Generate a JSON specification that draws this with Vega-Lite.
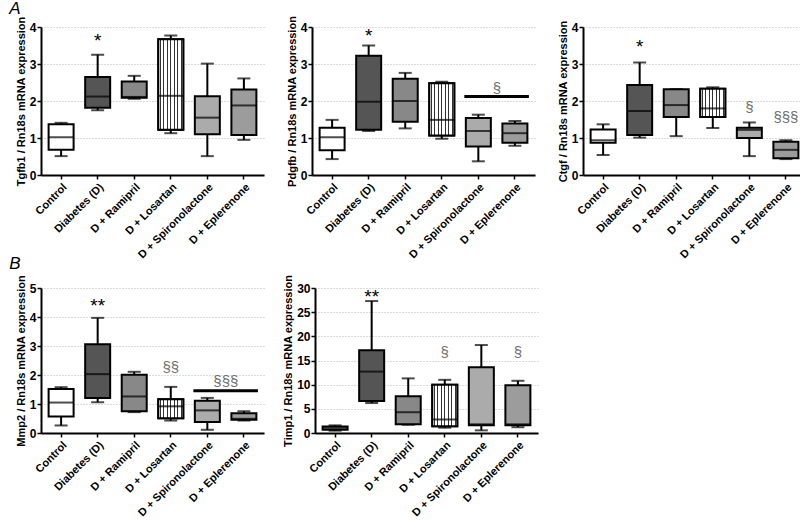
{
  "$schema": "https://vega.github.io/schema/vega-lite/v6.json",
  "padding": {"left": 9, "top": 0, "right": 0, "bottom": 0},
  "background": "white",
  "config": {
    "font": "Liberation Sans",
    "view": {"stroke": null},
    "axis": {"labelFont": "Liberation Sans", "labelFontWeight": "bold", "labelFontSize": 11, "labelColor": "#000", "titleFont": "Liberation Sans", "titleFontSize": 11, "titleFontWeight": "bold", "titleColor": "#000", "domainColor": "#000", "domainWidth": 2, "tickColor": "#000", "tickWidth": 1.5, "tickSize": 4},
    "axisX": {"labelAngle": -45, "labelAlign": "right", "labelBaseline": "top", "grid": false, "labelPadding": 2},
    "axisY": {"grid": true, "gridColor": "#b8b8b8", "gridDash": [1, 2], "gridWidth": 1, "labelPadding": 1, "titlePadding": 3, "minExtent": 0, "tickCount": 5, "labelFontSize": 12},
    "title": {"font": "Liberation Sans", "fontSize": 17, "fontStyle": "italic", "fontWeight": "normal", "anchor": "start", "color": "#000"}
  },
  "datasets": {
    "tgfb1": [
      {"g": "Control", "min": 0.51, "q1": 0.68, "med": 1.02, "q3": 1.37, "max": 1.41},
      {"g": "Diabetes (D)", "min": 1.75, "q1": 1.82, "med": 2.12, "q3": 2.65, "max": 3.25},
      {"g": "D + Ramipril", "min": 2.06, "q1": 2.09, "med": 2.11, "q3": 2.53, "max": 2.68},
      {"g": "D + Losartan", "min": 1.13, "q1": 1.22, "med": 2.14, "q3": 3.67, "max": 3.77},
      {"g": "D + Spironolactone", "min": 0.51, "q1": 1.1, "med": 1.55, "q3": 2.13, "max": 3.01},
      {"g": "D + Eplerenone", "min": 0.95, "q1": 1.08, "med": 1.88, "q3": 2.31, "max": 2.61}
    ],
    "tgfb1_ann": [{"g": "Diabetes (D)", "y": 3.7, "t": "*"}],
    "pdgfb": [
      {"g": "Control", "min": 0.43, "q1": 0.67, "med": 1.02, "q3": 1.28, "max": 1.49},
      {"g": "Diabetes (D)", "min": 1.19, "q1": 1.22, "med": 1.98, "q3": 3.22, "max": 3.5},
      {"g": "D + Ramipril", "min": 1.26, "q1": 1.44, "med": 2.0, "q3": 2.6, "max": 2.76},
      {"g": "D + Losartan", "min": 0.98, "q1": 1.07, "med": 1.49, "q3": 2.48, "max": 2.52},
      {"g": "D + Spironolactone", "min": 0.37, "q1": 0.77, "med": 1.19, "q3": 1.54, "max": 1.63},
      {"g": "D + Eplerenone", "min": 0.79, "q1": 0.87, "med": 1.13, "q3": 1.39, "max": 1.46}
    ],
    "pdgfb_ann": [{"g": "Diabetes (D)", "y": 3.84, "t": "*"}],
    "pdgfb_bar": [{"g": "D + Spironolactone", "g2": "D + Eplerenone", "y": 2.12, "ty": 2.36, "t": "§"}],
    "ctgf": [
      {"g": "Control", "min": 0.54, "q1": 0.87, "med": 0.94, "q3": 1.23, "max": 1.37},
      {"g": "Diabetes (D)", "min": 1.01, "q1": 1.08, "med": 1.73, "q3": 2.43, "max": 3.04},
      {"g": "D + Ramipril", "min": 1.05, "q1": 1.57, "med": 1.89, "q3": 2.32, "max": 2.32},
      {"g": "D + Losartan", "min": 1.27, "q1": 1.57, "med": 1.8, "q3": 2.33, "max": 2.37},
      {"g": "D + Spironolactone", "min": 0.51, "q1": 1.0, "med": 1.22, "q3": 1.28, "max": 1.42},
      {"g": "D + Eplerenone", "min": 0.43, "q1": 0.45, "med": 0.68, "q3": 0.9, "max": 0.94}
    ],
    "ctgf_ann": [
      {"g": "Diabetes (D)", "y": 3.53, "t": "*"},
      {"g": "D + Spironolactone", "y": 1.83, "t": "§"},
      {"g": "D + Eplerenone", "y": 1.57, "t": "§§§"}
    ],
    "mmp2": [
      {"g": "Control", "min": 0.26, "q1": 0.57, "med": 1.05, "q3": 1.52, "max": 1.58},
      {"g": "Diabetes (D)", "min": 1.06, "q1": 1.21, "med": 2.03, "q3": 3.06, "max": 3.97},
      {"g": "D + Ramipril", "min": 0.72, "q1": 0.75, "med": 1.26, "q3": 2.01, "max": 2.11},
      {"g": "D + Losartan", "min": 0.43, "q1": 0.51, "med": 0.92, "q3": 1.16, "max": 1.59},
      {"g": "D + Spironolactone", "min": 0.11, "q1": 0.38, "med": 0.78, "q3": 1.11, "max": 1.21},
      {"g": "D + Eplerenone", "min": 0.43, "q1": 0.46, "med": 0.49, "q3": 0.68, "max": 0.75}
    ],
    "mmp2_ann": [
      {"g": "Diabetes (D)", "y": 4.5, "t": "**"},
      {"g": "D + Losartan", "y": 2.26, "t": "§§"}
    ],
    "mmp2_bar": [{"g": "D + Spironolactone", "g2": "D + Eplerenone", "y": 1.46, "ty": 1.8, "t": "§§§"}],
    "timp1": [
      {"g": "Control", "min": 0.48, "q1": 0.68, "med": 1.03, "q3": 1.37, "max": 1.58},
      {"g": "Diabetes (D)", "min": 6.2, "q1": 6.6, "med": 12.7, "q3": 17.1, "max": 27.3},
      {"g": "D + Ramipril", "min": 1.7, "q1": 1.8, "med": 4.3, "q3": 7.6, "max": 11.3},
      {"g": "D + Losartan", "min": 1.1, "q1": 1.4, "med": 2.8, "q3": 10.0, "max": 11.0},
      {"g": "D + Spironolactone", "min": 0.55, "q1": 1.6, "med": 1.8, "q3": 13.6, "max": 18.2},
      {"g": "D + Eplerenone", "min": 1.2, "q1": 1.6, "med": 1.8, "q3": 9.9, "max": 10.8}
    ],
    "timp1_ann": [
      {"g": "Diabetes (D)", "y": 28.8, "t": "**"},
      {"g": "D + Losartan", "y": 16.8, "t": "§"},
      {"g": "D + Eplerenone", "y": 16.8, "t": "§"}
    ]
  },
  "spacing": -5,
  "vconcat": [
    {
      "title": {"text": "A", "dx": -6, "dy": 5, "offset": 2},
      "spacing": 22,
      "hconcat": [
        {
          "width": 223, "height": 148,
          "encoding": {"x": {"field": "g", "type": "nominal", "sort": null, "scale": {"type": "band", "domain": ["Control", "Diabetes (D)", "D + Ramipril", "D + Losartan", "D + Spironolactone", "D + Eplerenone"], "paddingInner": 0, "paddingOuter": 0.05}, "axis": {"title": null}}},
          "layer": [
            {"data": {"name": "tgfb1"}, "mark": {"type": "rule", "color": "#000", "strokeWidth": 2}, "encoding": {"y": {"field": "min", "type": "quantitative", "scale": {"domain": [0, 4]}, "axis": {"title": "Tgfb1 / Rn18s mRNA expression"}}, "y2": {"field": "max"}}},
            {"data": {"name": "tgfb1"}, "mark": {"type": "tick", "color": "#000", "size": 13, "thickness": 2}, "encoding": {"y": {"field": "min", "type": "quantitative"}}},
            {"data": {"name": "tgfb1"}, "mark": {"type": "tick", "color": "#000", "size": 13, "thickness": 2}, "encoding": {"y": {"field": "max", "type": "quantitative"}}},
            {"data": {"name": "tgfb1"}, "mark": {"type": "bar", "size": 25, "stroke": "#000", "strokeWidth": 2}, "encoding": {"y": {"field": "q1", "type": "quantitative"}, "y2": {"field": "q3"}, "fill": {"field": "g", "type": "nominal", "scale": {"domain": ["Control", "Diabetes (D)", "D + Ramipril", "D + Losartan", "D + Spironolactone", "D + Eplerenone"], "range": ["#ffffff", "#555555", "#888888", "#ffffff", "#ababab", "#9c9c9c"]}, "legend": null}}},
            {"data": {"name": "tgfb1"}, "transform": [{"filter": "datum.g === 'D + Losartan'"}], "mark": {"type": "bar", "size": 25, "stroke": "#000", "strokeWidth": 2, "fill": {"gradient": "linear", "x1": 0, "y1": 0, "x2": 1, "y2": 0, "stops": [{"offset": 0, "color": "#fff"}, {"offset": 0.049, "color": "#fff"}, {"offset": 0.049, "color": "#333"}, {"offset": 0.093, "color": "#333"}, {"offset": 0.093, "color": "#fff"}, {"offset": 0.192, "color": "#fff"}, {"offset": 0.192, "color": "#333"}, {"offset": 0.236, "color": "#333"}, {"offset": 0.236, "color": "#fff"}, {"offset": 0.335, "color": "#fff"}, {"offset": 0.335, "color": "#333"}, {"offset": 0.379, "color": "#333"}, {"offset": 0.379, "color": "#fff"}, {"offset": 0.478, "color": "#fff"}, {"offset": 0.478, "color": "#333"}, {"offset": 0.522, "color": "#333"}, {"offset": 0.522, "color": "#fff"}, {"offset": 0.621, "color": "#fff"}, {"offset": 0.621, "color": "#333"}, {"offset": 0.665, "color": "#333"}, {"offset": 0.665, "color": "#fff"}, {"offset": 0.764, "color": "#fff"}, {"offset": 0.764, "color": "#333"}, {"offset": 0.808, "color": "#333"}, {"offset": 0.808, "color": "#fff"}, {"offset": 0.907, "color": "#fff"}, {"offset": 0.907, "color": "#333"}, {"offset": 0.951, "color": "#333"}, {"offset": 0.951, "color": "#fff"}, {"offset": 1, "color": "#fff"}]}}, "encoding": {"y": {"field": "q1", "type": "quantitative"}, "y2": {"field": "q3"}}},
            {"data": {"name": "tgfb1"}, "mark": {"type": "tick", "color": "#000", "size": 25, "thickness": 2}, "encoding": {"y": {"field": "med", "type": "quantitative"}}},
            {"data": {"name": "tgfb1_ann"}, "mark": {"type": "text", "fontSize": 19, "baseline": "middle", "dy": 3, "font": "Liberation Sans", "color": "#000"}, "encoding": {"y": {"field": "y", "type": "quantitative"}, "text": {"field": "t"}}}
          ]
        },
        {
          "width": 223, "height": 148,
          "encoding": {"x": {"field": "g", "type": "nominal", "sort": null, "scale": {"type": "band", "domain": ["Control", "Diabetes (D)", "D + Ramipril", "D + Losartan", "D + Spironolactone", "D + Eplerenone"], "paddingInner": 0, "paddingOuter": 0.05}, "axis": {"title": null}}},
          "layer": [
            {"data": {"name": "pdgfb"}, "mark": {"type": "rule", "color": "#000", "strokeWidth": 2}, "encoding": {"y": {"field": "min", "type": "quantitative", "scale": {"domain": [0, 4]}, "axis": {"title": "Pdgfb / Rn18s mRNA expression"}}, "y2": {"field": "max"}}},
            {"data": {"name": "pdgfb"}, "mark": {"type": "tick", "color": "#000", "size": 13, "thickness": 2}, "encoding": {"y": {"field": "min", "type": "quantitative"}}},
            {"data": {"name": "pdgfb"}, "mark": {"type": "tick", "color": "#000", "size": 13, "thickness": 2}, "encoding": {"y": {"field": "max", "type": "quantitative"}}},
            {"data": {"name": "pdgfb"}, "mark": {"type": "bar", "size": 25, "stroke": "#000", "strokeWidth": 2}, "encoding": {"y": {"field": "q1", "type": "quantitative"}, "y2": {"field": "q3"}, "fill": {"field": "g", "type": "nominal", "scale": {"domain": ["Control", "Diabetes (D)", "D + Ramipril", "D + Losartan", "D + Spironolactone", "D + Eplerenone"], "range": ["#ffffff", "#555555", "#888888", "#ffffff", "#ababab", "#9c9c9c"]}, "legend": null}}},
            {"data": {"name": "pdgfb"}, "transform": [{"filter": "datum.g === 'D + Losartan'"}], "mark": {"type": "bar", "size": 25, "stroke": "#000", "strokeWidth": 2, "fill": {"gradient": "linear", "x1": 0, "y1": 0, "x2": 1, "y2": 0, "stops": [{"offset": 0, "color": "#fff"}, {"offset": 0.049, "color": "#fff"}, {"offset": 0.049, "color": "#333"}, {"offset": 0.093, "color": "#333"}, {"offset": 0.093, "color": "#fff"}, {"offset": 0.192, "color": "#fff"}, {"offset": 0.192, "color": "#333"}, {"offset": 0.236, "color": "#333"}, {"offset": 0.236, "color": "#fff"}, {"offset": 0.335, "color": "#fff"}, {"offset": 0.335, "color": "#333"}, {"offset": 0.379, "color": "#333"}, {"offset": 0.379, "color": "#fff"}, {"offset": 0.478, "color": "#fff"}, {"offset": 0.478, "color": "#333"}, {"offset": 0.522, "color": "#333"}, {"offset": 0.522, "color": "#fff"}, {"offset": 0.621, "color": "#fff"}, {"offset": 0.621, "color": "#333"}, {"offset": 0.665, "color": "#333"}, {"offset": 0.665, "color": "#fff"}, {"offset": 0.764, "color": "#fff"}, {"offset": 0.764, "color": "#333"}, {"offset": 0.808, "color": "#333"}, {"offset": 0.808, "color": "#fff"}, {"offset": 0.907, "color": "#fff"}, {"offset": 0.907, "color": "#333"}, {"offset": 0.951, "color": "#333"}, {"offset": 0.951, "color": "#fff"}, {"offset": 1, "color": "#fff"}]}}, "encoding": {"y": {"field": "q1", "type": "quantitative"}, "y2": {"field": "q3"}}},
            {"data": {"name": "pdgfb"}, "mark": {"type": "tick", "color": "#000", "size": 25, "thickness": 2}, "encoding": {"y": {"field": "med", "type": "quantitative"}}},
            {"data": {"name": "pdgfb_ann"}, "mark": {"type": "text", "fontSize": 19, "baseline": "middle", "dy": 3, "font": "Liberation Sans", "color": "#000"}, "encoding": {"y": {"field": "y", "type": "quantitative"}, "text": {"field": "t"}}},
            {"data": {"name": "pdgfb_bar"}, "mark": {"type": "rule", "color": "#000", "strokeWidth": 3, "xOffset": -14, "x2Offset": 14}, "encoding": {"x2": {"field": "g2"}, "y": {"field": "y", "type": "quantitative"}}},
            {"data": {"name": "pdgfb_bar"}, "mark": {"type": "text", "fontSize": 15, "baseline": "middle", "dx": 18.5, "color": "#6e6e6e", "font": "Liberation Sans"}, "encoding": {"y": {"field": "ty", "type": "quantitative"}, "text": {"field": "t"}}}
          ]
        },
        {
          "width": 223, "height": 148,
          "encoding": {"x": {"field": "g", "type": "nominal", "sort": null, "scale": {"type": "band", "domain": ["Control", "Diabetes (D)", "D + Ramipril", "D + Losartan", "D + Spironolactone", "D + Eplerenone"], "paddingInner": 0, "paddingOuter": 0.05}, "axis": {"title": null}}},
          "layer": [
            {"data": {"name": "ctgf"}, "mark": {"type": "rule", "color": "#000", "strokeWidth": 2}, "encoding": {"y": {"field": "min", "type": "quantitative", "scale": {"domain": [0, 4]}, "axis": {"title": "Ctgf / Rn18s mRNA expression"}}, "y2": {"field": "max"}}},
            {"data": {"name": "ctgf"}, "mark": {"type": "tick", "color": "#000", "size": 13, "thickness": 2}, "encoding": {"y": {"field": "min", "type": "quantitative"}}},
            {"data": {"name": "ctgf"}, "mark": {"type": "tick", "color": "#000", "size": 13, "thickness": 2}, "encoding": {"y": {"field": "max", "type": "quantitative"}}},
            {"data": {"name": "ctgf"}, "mark": {"type": "bar", "size": 25, "stroke": "#000", "strokeWidth": 2}, "encoding": {"y": {"field": "q1", "type": "quantitative"}, "y2": {"field": "q3"}, "fill": {"field": "g", "type": "nominal", "scale": {"domain": ["Control", "Diabetes (D)", "D + Ramipril", "D + Losartan", "D + Spironolactone", "D + Eplerenone"], "range": ["#ffffff", "#555555", "#888888", "#ffffff", "#ababab", "#9c9c9c"]}, "legend": null}}},
            {"data": {"name": "ctgf"}, "transform": [{"filter": "datum.g === 'D + Losartan'"}], "mark": {"type": "bar", "size": 25, "stroke": "#000", "strokeWidth": 2, "fill": {"gradient": "linear", "x1": 0, "y1": 0, "x2": 1, "y2": 0, "stops": [{"offset": 0, "color": "#fff"}, {"offset": 0.049, "color": "#fff"}, {"offset": 0.049, "color": "#333"}, {"offset": 0.093, "color": "#333"}, {"offset": 0.093, "color": "#fff"}, {"offset": 0.192, "color": "#fff"}, {"offset": 0.192, "color": "#333"}, {"offset": 0.236, "color": "#333"}, {"offset": 0.236, "color": "#fff"}, {"offset": 0.335, "color": "#fff"}, {"offset": 0.335, "color": "#333"}, {"offset": 0.379, "color": "#333"}, {"offset": 0.379, "color": "#fff"}, {"offset": 0.478, "color": "#fff"}, {"offset": 0.478, "color": "#333"}, {"offset": 0.522, "color": "#333"}, {"offset": 0.522, "color": "#fff"}, {"offset": 0.621, "color": "#fff"}, {"offset": 0.621, "color": "#333"}, {"offset": 0.665, "color": "#333"}, {"offset": 0.665, "color": "#fff"}, {"offset": 0.764, "color": "#fff"}, {"offset": 0.764, "color": "#333"}, {"offset": 0.808, "color": "#333"}, {"offset": 0.808, "color": "#fff"}, {"offset": 0.907, "color": "#fff"}, {"offset": 0.907, "color": "#333"}, {"offset": 0.951, "color": "#333"}, {"offset": 0.951, "color": "#fff"}, {"offset": 1, "color": "#fff"}]}}, "encoding": {"y": {"field": "q1", "type": "quantitative"}, "y2": {"field": "q3"}}},
            {"data": {"name": "ctgf"}, "mark": {"type": "tick", "color": "#000", "size": 25, "thickness": 2}, "encoding": {"y": {"field": "med", "type": "quantitative"}}},
            {"data": {"name": "ctgf_ann"}, "transform": [{"filter": "datum.t === '*'"}], "mark": {"type": "text", "fontSize": 19, "baseline": "middle", "dy": 3, "font": "Liberation Sans", "color": "#000"}, "encoding": {"y": {"field": "y", "type": "quantitative"}, "text": {"field": "t"}}},
            {"data": {"name": "ctgf_ann"}, "transform": [{"filter": "datum.t !== '*'"}], "mark": {"type": "text", "fontSize": 15, "baseline": "middle", "font": "Liberation Sans", "color": "#6e6e6e"}, "encoding": {"y": {"field": "y", "type": "quantitative"}, "text": {"field": "t"}}}
          ]
        }
      ]
    },
    {
      "title": {"text": "B", "dx": -6, "dy": -13, "offset": -12},
      "spacing": 18,
      "hconcat": [
        {
          "width": 223, "height": 145,
          "encoding": {"x": {"field": "g", "type": "nominal", "sort": null, "scale": {"type": "band", "domain": ["Control", "Diabetes (D)", "D + Ramipril", "D + Losartan", "D + Spironolactone", "D + Eplerenone"], "paddingInner": 0, "paddingOuter": 0.05}, "axis": {"title": null}}},
          "layer": [
            {"data": {"name": "mmp2"}, "mark": {"type": "rule", "color": "#000", "strokeWidth": 2}, "encoding": {"y": {"field": "min", "type": "quantitative", "scale": {"domain": [0, 5]}, "axis": {"title": "Mmp2 / Rn18s mRNA expression"}}, "y2": {"field": "max"}}},
            {"data": {"name": "mmp2"}, "mark": {"type": "tick", "color": "#000", "size": 13, "thickness": 2}, "encoding": {"y": {"field": "min", "type": "quantitative"}}},
            {"data": {"name": "mmp2"}, "mark": {"type": "tick", "color": "#000", "size": 13, "thickness": 2}, "encoding": {"y": {"field": "max", "type": "quantitative"}}},
            {"data": {"name": "mmp2"}, "mark": {"type": "bar", "size": 25, "stroke": "#000", "strokeWidth": 2}, "encoding": {"y": {"field": "q1", "type": "quantitative"}, "y2": {"field": "q3"}, "fill": {"field": "g", "type": "nominal", "scale": {"domain": ["Control", "Diabetes (D)", "D + Ramipril", "D + Losartan", "D + Spironolactone", "D + Eplerenone"], "range": ["#ffffff", "#555555", "#888888", "#ffffff", "#ababab", "#9c9c9c"]}, "legend": null}}},
            {"data": {"name": "mmp2"}, "transform": [{"filter": "datum.g === 'D + Losartan'"}], "mark": {"type": "bar", "size": 25, "stroke": "#000", "strokeWidth": 2, "fill": {"gradient": "linear", "x1": 0, "y1": 0, "x2": 1, "y2": 0, "stops": [{"offset": 0, "color": "#fff"}, {"offset": 0.049, "color": "#fff"}, {"offset": 0.049, "color": "#333"}, {"offset": 0.093, "color": "#333"}, {"offset": 0.093, "color": "#fff"}, {"offset": 0.192, "color": "#fff"}, {"offset": 0.192, "color": "#333"}, {"offset": 0.236, "color": "#333"}, {"offset": 0.236, "color": "#fff"}, {"offset": 0.335, "color": "#fff"}, {"offset": 0.335, "color": "#333"}, {"offset": 0.379, "color": "#333"}, {"offset": 0.379, "color": "#fff"}, {"offset": 0.478, "color": "#fff"}, {"offset": 0.478, "color": "#333"}, {"offset": 0.522, "color": "#333"}, {"offset": 0.522, "color": "#fff"}, {"offset": 0.621, "color": "#fff"}, {"offset": 0.621, "color": "#333"}, {"offset": 0.665, "color": "#333"}, {"offset": 0.665, "color": "#fff"}, {"offset": 0.764, "color": "#fff"}, {"offset": 0.764, "color": "#333"}, {"offset": 0.808, "color": "#333"}, {"offset": 0.808, "color": "#fff"}, {"offset": 0.907, "color": "#fff"}, {"offset": 0.907, "color": "#333"}, {"offset": 0.951, "color": "#333"}, {"offset": 0.951, "color": "#fff"}, {"offset": 1, "color": "#fff"}]}}, "encoding": {"y": {"field": "q1", "type": "quantitative"}, "y2": {"field": "q3"}}},
            {"data": {"name": "mmp2"}, "mark": {"type": "tick", "color": "#000", "size": 25, "thickness": 2}, "encoding": {"y": {"field": "med", "type": "quantitative"}}},
            {"data": {"name": "mmp2_ann"}, "transform": [{"filter": "datum.t === '**'"}], "mark": {"type": "text", "fontSize": 19, "baseline": "middle", "dy": 3, "font": "Liberation Sans", "color": "#000"}, "encoding": {"y": {"field": "y", "type": "quantitative"}, "text": {"field": "t"}}},
            {"data": {"name": "mmp2_ann"}, "transform": [{"filter": "datum.t !== '**'"}], "mark": {"type": "text", "fontSize": 15, "baseline": "middle", "font": "Liberation Sans", "color": "#6e6e6e"}, "encoding": {"y": {"field": "y", "type": "quantitative"}, "text": {"field": "t"}}},
            {"data": {"name": "mmp2_bar"}, "mark": {"type": "rule", "color": "#000", "strokeWidth": 3, "xOffset": -14, "x2Offset": 14}, "encoding": {"x2": {"field": "g2"}, "y": {"field": "y", "type": "quantitative"}}},
            {"data": {"name": "mmp2_bar"}, "mark": {"type": "text", "fontSize": 15, "baseline": "middle", "dx": 18.5, "color": "#6e6e6e", "font": "Liberation Sans"}, "encoding": {"y": {"field": "ty", "type": "quantitative"}, "text": {"field": "t"}}}
          ]
        },
        {
          "width": 223, "height": 145,
          "encoding": {"x": {"field": "g", "type": "nominal", "sort": null, "scale": {"type": "band", "domain": ["Control", "Diabetes (D)", "D + Ramipril", "D + Losartan", "D + Spironolactone", "D + Eplerenone"], "paddingInner": 0, "paddingOuter": 0.05}, "axis": {"title": null}}},
          "layer": [
            {"data": {"name": "timp1"}, "mark": {"type": "rule", "color": "#000", "strokeWidth": 2}, "encoding": {"y": {"field": "min", "type": "quantitative", "scale": {"domain": [0, 30]}, "axis": {"title": "Timp1 / Rn18s mRNA expression"}}, "y2": {"field": "max"}}},
            {"data": {"name": "timp1"}, "mark": {"type": "tick", "color": "#000", "size": 13, "thickness": 2}, "encoding": {"y": {"field": "min", "type": "quantitative"}}},
            {"data": {"name": "timp1"}, "mark": {"type": "tick", "color": "#000", "size": 13, "thickness": 2}, "encoding": {"y": {"field": "max", "type": "quantitative"}}},
            {"data": {"name": "timp1"}, "mark": {"type": "bar", "size": 25, "stroke": "#000", "strokeWidth": 2}, "encoding": {"y": {"field": "q1", "type": "quantitative"}, "y2": {"field": "q3"}, "fill": {"field": "g", "type": "nominal", "scale": {"domain": ["Control", "Diabetes (D)", "D + Ramipril", "D + Losartan", "D + Spironolactone", "D + Eplerenone"], "range": ["#ffffff", "#555555", "#888888", "#ffffff", "#ababab", "#9c9c9c"]}, "legend": null}}},
            {"data": {"name": "timp1"}, "transform": [{"filter": "datum.g === 'D + Losartan'"}], "mark": {"type": "bar", "size": 25, "stroke": "#000", "strokeWidth": 2, "fill": {"gradient": "linear", "x1": 0, "y1": 0, "x2": 1, "y2": 0, "stops": [{"offset": 0, "color": "#fff"}, {"offset": 0.049, "color": "#fff"}, {"offset": 0.049, "color": "#333"}, {"offset": 0.093, "color": "#333"}, {"offset": 0.093, "color": "#fff"}, {"offset": 0.192, "color": "#fff"}, {"offset": 0.192, "color": "#333"}, {"offset": 0.236, "color": "#333"}, {"offset": 0.236, "color": "#fff"}, {"offset": 0.335, "color": "#fff"}, {"offset": 0.335, "color": "#333"}, {"offset": 0.379, "color": "#333"}, {"offset": 0.379, "color": "#fff"}, {"offset": 0.478, "color": "#fff"}, {"offset": 0.478, "color": "#333"}, {"offset": 0.522, "color": "#333"}, {"offset": 0.522, "color": "#fff"}, {"offset": 0.621, "color": "#fff"}, {"offset": 0.621, "color": "#333"}, {"offset": 0.665, "color": "#333"}, {"offset": 0.665, "color": "#fff"}, {"offset": 0.764, "color": "#fff"}, {"offset": 0.764, "color": "#333"}, {"offset": 0.808, "color": "#333"}, {"offset": 0.808, "color": "#fff"}, {"offset": 0.907, "color": "#fff"}, {"offset": 0.907, "color": "#333"}, {"offset": 0.951, "color": "#333"}, {"offset": 0.951, "color": "#fff"}, {"offset": 1, "color": "#fff"}]}}, "encoding": {"y": {"field": "q1", "type": "quantitative"}, "y2": {"field": "q3"}}},
            {"data": {"name": "timp1"}, "mark": {"type": "tick", "color": "#000", "size": 25, "thickness": 2}, "encoding": {"y": {"field": "med", "type": "quantitative"}}},
            {"data": {"name": "timp1_ann"}, "transform": [{"filter": "datum.t === '**'"}], "mark": {"type": "text", "fontSize": 19, "baseline": "middle", "dy": 3, "font": "Liberation Sans", "color": "#000"}, "encoding": {"y": {"field": "y", "type": "quantitative"}, "text": {"field": "t"}}},
            {"data": {"name": "timp1_ann"}, "transform": [{"filter": "datum.t !== '**'"}], "mark": {"type": "text", "fontSize": 15, "baseline": "middle", "font": "Liberation Sans", "color": "#6e6e6e"}, "encoding": {"y": {"field": "y", "type": "quantitative"}, "text": {"field": "t"}}}
          ]
        }
      ]
    }
  ]
}
